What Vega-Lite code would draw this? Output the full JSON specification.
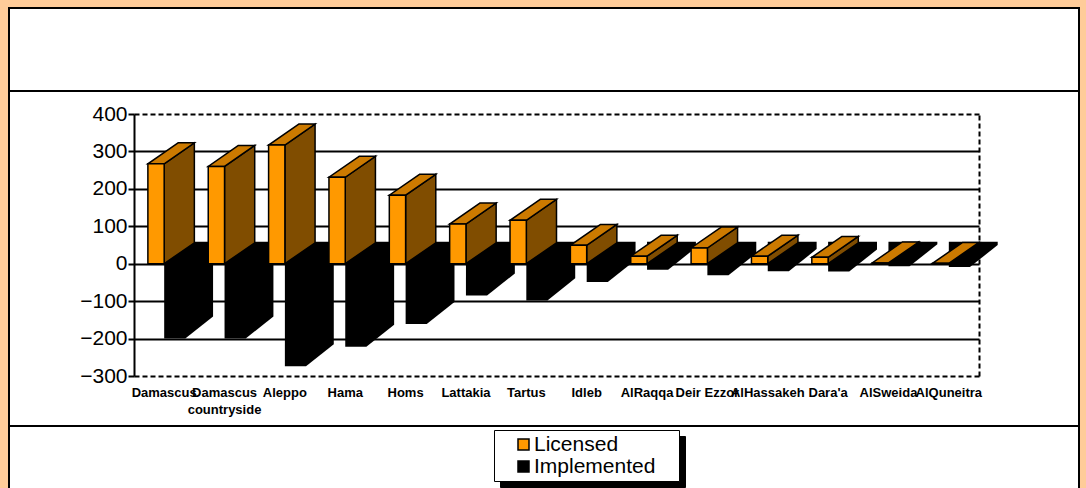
{
  "$schema": "https://vega.github.io/schema/vega-lite/v6.json",
  "background": "#FFCC99",
  "padding": {"left": 8, "top": 7, "right": 8, "bottom": 0},
  "config": {
    "view": {"fill": "white", "stroke": "black", "strokeWidth": 2},
    "font": "Liberation Sans"
  },
  "datasets": {
    "regions": [
      {"region": "Damascus", "Licensed": 267, "Implemented": -200},
      {"region": "Damascus countryside", "Licensed": 260, "Implemented": -200},
      {"region": "Aleppo", "Licensed": 317, "Implemented": -274},
      {"region": "Hama", "Licensed": 231, "Implemented": -222},
      {"region": "Homs", "Licensed": 183, "Implemented": -161},
      {"region": "Lattakia", "Licensed": 106, "Implemented": -85},
      {"region": "Tartus", "Licensed": 116, "Implemented": -98},
      {"region": "Idleb", "Licensed": 49, "Implemented": -49},
      {"region": "AlRaqqa", "Licensed": 20, "Implemented": -16},
      {"region": "Deir Ezzor", "Licensed": 42, "Implemented": -31},
      {"region": "AlHassakeh", "Licensed": 20, "Implemented": -20},
      {"region": "Dara'a", "Licensed": 17, "Implemented": -21},
      {"region": "AlSweida", "Licensed": 2, "Implemented": -7},
      {"region": "AlQuneitra", "Licensed": 1, "Implemented": -9}
    ]
  },
  "spacing": 0,
  "bounds": "flush",
  "vconcat": [
    {
      "width": 1070,
      "height": 83,
      "view": {"fill": "white", "stroke": "black", "strokeWidth": 2},
      "data": {"name": "regions"},
      "mark": {"type": "tick", "opacity": 0},
      "encoding": {
        "x": {"field": "Licensed", "type": "quantitative", "axis": null}
      }
    },
    {
      "width": 1070,
      "height": 335,
      "data": {"name": "regions"},
      "transform": [
        {"window": [{"op": "row_number", "as": "n"}]},
        {"calculate": "datum.n - 0.5", "as": "cx"}
      ],
      "layer": [
        {
          "mark": {"type": "bar", "opacity": 0},
          "encoding": {
            "x": {
              "field": "region",
              "type": "nominal",
              "sort": null,
              "scale": {"type": "band", "range": [125, 970], "paddingInner": 0, "paddingOuter": 0},
              "axis": {
                "orient": "bottom",
                "offset": -50,
                "title": null,
                "domain": false,
                "ticks": false,
                "labelAngle": 0,
                "labelFont": "Liberation Sans",
                "labelFontSize": 13,
                "labelFontWeight": "bold",
                "labelColor": "black",
                "labelPadding": 10,
                "labelLineHeight": 17,
                "labelLimit": 0,
                "labelOverlap": false,
                "labelExpr": "length(datum.label) > 12 ? split(datum.label, ' ') : datum.label"
              }
            },
            "y": {
              "field": "Licensed",
              "type": "quantitative",
              "scale": {"domain": [-300, 400], "range": [285, 23], "nice": false, "zero": false},
              "axis": {
                "values": [-300, -200, -100, 0, 100, 200, 300, 400],
                "offset": -125,
                "title": null,
                "grid": true,
                "gridColor": "black",
                "gridWidth": 2,
                "gridDash": {"condition": {"test": "datum.value === 400 || datum.value === -300", "value": [5, 3]}, "value": []},
                "domainColor": "black",
                "domainWidth": 2,
                "tickColor": "black",
                "tickWidth": 2,
                "tickSize": 6,
                "labelFont": "Liberation Sans",
                "labelFontSize": 21,
                "labelColor": "black",
                "labelPadding": 1
              }
            }
          }
        },
        {
          "layer": [
            {
              "transform": [
                {"calculate": "[0, 1, 2]", "as": "v"},
                {"flatten": ["v"]},
                {"calculate": "datum.cx + [0, 0.35, 0.81][datum.v]", "as": "gx"},
                {"calculate": "datum.Implemented + (datum.v == 2 ? 59 : 0)", "as": "gy"}
              ],
              "mark": {"type": "area", "orient": "vertical", "interpolate": "linear"},
              "encoding": {
                "x": {
                  "field": "gx",
                  "type": "quantitative",
                  "scale": {"domain": [0, 14], "range": [125, 970], "nice": false, "zero": false},
                  "axis": {"orient": "top", "values": [14], "grid": true, "gridColor": "black", "gridWidth": 2, "gridDash": [5, 3], "domain": false, "ticks": false, "labels": false, "title": null}
                },
                "y": {"field": "gy", "type": "quantitative", "stack": null},
                "y2": {"datum": 59},
                "detail": {"field": "region"},
                "fill": {"datum": "Implemented"}
              }
            },
            {
              "transform": [
                {"calculate": "[0, 1]", "as": "v"},
                {"flatten": ["v"]},
                {"calculate": "datum.cx + 0.5 * datum.v", "as": "gx"},
                {"calculate": "datum.Licensed + 56 * datum.v", "as": "gy"},
                {"calculate": "56 * datum.v", "as": "gy2"}
              ],
              "mark": {"type": "area", "orient": "vertical", "fill": "#804D00", "stroke": "black", "strokeWidth": 1.5, "strokeJoin": "miter"},
              "encoding": {
                "x": {
                  "field": "gx",
                  "type": "quantitative",
                  "axis": {"orient": "top", "values": [14], "grid": true, "gridColor": "black", "gridWidth": 2, "gridDash": [5, 3], "domain": false, "ticks": false, "labels": false, "title": null}
                },
                "y": {"field": "gy", "type": "quantitative", "stack": null},
                "y2": {"field": "gy2"},
                "detail": {"field": "region"}
              }
            },
            {
              "transform": [
                {"calculate": "[0, 1]", "as": "v"},
                {"flatten": ["v"]},
                {"calculate": "datum.cx - 0.27 + 0.5 * datum.v", "as": "gx"},
                {"calculate": "datum.cx + 0.5 * datum.v", "as": "gx2"},
                {"calculate": "datum.Licensed + 56 * datum.v", "as": "gy"}
              ],
              "mark": {"type": "area", "orient": "horizontal", "fill": "#CC7A00", "stroke": "black", "strokeWidth": 1.5, "strokeJoin": "miter"},
              "encoding": {
                "y": {"field": "gy", "type": "quantitative"},
                "x": {
                  "field": "gx",
                  "type": "quantitative",
                  "stack": null,
                  "axis": {"orient": "top", "values": [14], "grid": true, "gridColor": "black", "gridWidth": 2, "gridDash": [5, 3], "domain": false, "ticks": false, "labels": false, "title": null}
                },
                "x2": {"field": "gx2"},
                "detail": {"field": "region"}
              }
            },
            {
              "transform": [
                {"calculate": "datum.cx - 0.27", "as": "gx"},
                {"calculate": "datum.cx", "as": "gx2"}
              ],
              "mark": {"type": "rect", "stroke": "black", "strokeWidth": 1.5},
              "encoding": {
                "x": {
                  "field": "gx",
                  "type": "quantitative",
                  "axis": {"orient": "top", "values": [14], "grid": true, "gridColor": "black", "gridWidth": 2, "gridDash": [5, 3], "domain": false, "ticks": false, "labels": false, "title": null}
                },
                "x2": {"field": "gx2"},
                "y": {"field": "Licensed", "type": "quantitative"},
                "y2": {"datum": 0},
                "fill": {
                  "datum": "Licensed",
                  "scale": {"domain": ["Licensed", "Implemented"], "range": ["#FF9900", "#000000"]},
                  "legend": {
                    "orient": "none",
                    "legendX": 485,
                    "legendY": 422,
                    "title": "\u00a0",
                    "titleOrient": "right",
                    "titlePadding": 20,
                    "titleFontSize": 4,
                    "zindex": 2,
                    "fillColor": "white",
                    "strokeColor": "black",
                    "padding": 4,
                    "symbolType": "square",
                    "symbolSize": 121,
                    "symbolStrokeColor": "black",
                    "symbolStrokeWidth": 1.5,
                    "symbolOffset": 15,
                    "labelFont": "Liberation Sans",
                    "labelFontSize": 21,
                    "labelColor": "black",
                    "labelOffset": 0,
                    "rowPadding": 0
                  }
                }
              }
            },
            {
              "transform": [
                {"fold": ["Licensed", "Implemented"], "as": ["series", "count"]}
              ],
              "mark": {"type": "point", "opacity": 0},
              "encoding": {
                "x": {
                  "field": "cx",
                  "type": "quantitative",
                  "axis": {"orient": "top", "values": [14], "grid": true, "gridColor": "black", "gridWidth": 2, "gridDash": [5, 3], "domain": false, "ticks": false, "labels": false, "title": null}
                },
                "y": {"field": "count", "type": "quantitative"},
                "stroke": {
                  "field": "series",
                  "type": "nominal",
                  "scale": {"range": ["black", "black"]},
                  "legend": {
                    "orient": "none",
                    "legendX": 491,
                    "legendY": 428,
                    "title": "\u00a0",
                    "titleOrient": "right",
                    "titlePadding": 141,
                    "titleFontSize": 4,
                    "zindex": 1,
                    "fillColor": "black",
                    "strokeColor": "black",
                    "padding": 4,
                    "symbolType": "square",
                    "symbolSize": 121,
                    "symbolFillColor": "black",
                    "symbolStrokeColor": "black",
                    "symbolStrokeWidth": 1.5,
                    "symbolOffset": 15,
                    "labelFont": "Liberation Sans",
                    "labelFontSize": 21,
                    "labelColor": "black",
                    "labelOffset": 0,
                    "rowPadding": 0,
                    "labelExpr": "'\u00a0'"
                  }
                }
              }
            }
          ]
        }
      ],
      "resolve": {"scale": {"x": "independent"}}
    },
    {
      "width": 1070,
      "height": 70,
      "view": {"fill": "white", "stroke": "black", "strokeWidth": 2},
      "data": {"name": "regions"},
      "mark": {"type": "tick", "opacity": 0},
      "encoding": {
        "x": {"field": "Licensed", "type": "quantitative", "axis": null}
      }
    }
  ]
}
